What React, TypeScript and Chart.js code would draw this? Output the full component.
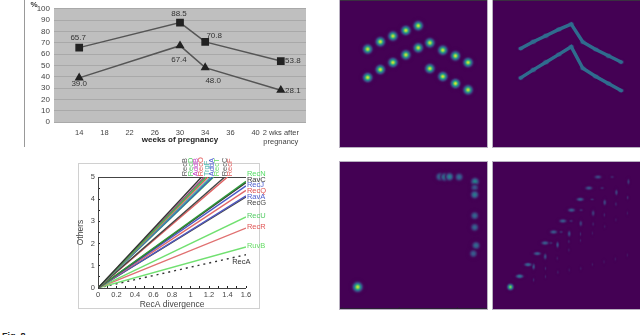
import React, { useEffect, useRef } from "react";
import { Chart, registerables } from "chart.js";

Chart.register(...registerables);

const FONT = "'Liberation Sans', Arial, sans-serif";

// Panel A: weeks of pregnancy
const weekLabels: any[] = ["", "14", "18", "22", "26", "30", "34", "36", "40", ["2 wks after", "pregnancy"], ""];
const upperSeries = [null, 65.7, null, null, null, 87.8, 70.8, null, null, 53.8, null];
const lowerSeries = [null, 39.0, null, null, null, 67.4, 48.0, null, null, 28.1, null];
const upperLabels = ["", "65.7", "", "", "", "88.5", "70.8", "", "", "53.8", ""];
const lowerLabels = ["", "39.0", "", "", "", "67.4", "48.0", "", "", "28.1", ""];
const upperOffsets = [[0, 0], [-1, -10], [0, 0], [0, 0], [0, 0], [-1, -9], [9, -6], [0, 0], [0, 0], [12, 0], [0, 0]];
const lowerOffsets = [[0, 0], [0, 6], [0, 0], [0, 0], [0, 0], [-1, 14], [8, 13], [0, 0], [0, 0], [12, 1], [0, 0]];

// Panel B: divergence lines
const lineNames = ["RecB", "RecD", "AddB", "RecO", "TrgF", "AddA", "RecT", "RecC", "RecF", "RecN", "RavC", "RecJ", "RecQ", "RavA", "RecG", "RecU", "RecR", "RuvB", "RecA"];
const lineEndX = [1.12, 1.17, 1.15, 1.19, 1.22, 1.24, 1.25, 1.37, 1.4, 1.6, 1.6, 1.6, 1.6, 1.6, 1.6, 1.6, 1.6, 1.6, 1.6];
const lineEndY = [5, 5, 5, 5, 5, 5, 5, 5, 5, 4.8, 4.75, 4.6, 4.4, 4.15, 4.1, 3.2, 2.7, 1.85, 1.5];
const lineColors = ["#333333", "#3fb64f", "#a0407f", "#e05a5a", "#3fa8a0", "#4050c0", "#4cc55c", "#444444", "#e06060", "#2f9a3a", "#333333", "#4858c8", "#e06868", "#5058c0", "#444444", "#70e070", "#e07070", "#70e070", "#333333"];
const textColors = ["#555555", "#55cc66", "#c040c0", "#e05555", "#50b8b0", "#5060d0", "#66dd66", "#555555", "#e05555", "#55dd66", "#333333", "#5060d0", "#e05050", "#5060d0", "#444444", "#55cc66", "#e05555", "#66dd66", "#333333"];
const labelX = [0.94, 1.0, 1.06, 1.115, 1.18, 1.23, 1.29, 1.37, 1.43, 1.61, 1.61, 1.61, 1.61, 1.61, 1.61, 1.61, 1.61, 1.61, 1.45];
const labelY = [5.03, 5.03, 5.03, 5.03, 5.03, 5.03, 5.03, 5.03, 5.03, 5.15, 4.86, 4.64, 4.38, 4.1, 3.84, 3.26, 2.75, 1.9, 1.17];

// Panels C/D: two chevrons
const chevronX = [18.8, 27.4, 36, 44.8, 53.2, 61.1, 69.9, 78.5, 87.1];
const dotsUpperY = [66.6, 71.6, 75.5, 79.3, 82.5, 70.9, 65.9, 62, 57.5];
const dotsLowerY = [47.3, 52.7, 57.5, 62.7, 67.5, 53.4, 48, 43.2, 38.9];
const traceUpperY = [67, 71.6, 75.7, 80, 83.6, 71.4, 66.4, 62, 57.8];
const traceLowerY = [47, 52.5, 57.7, 63, 68.2, 53.6, 48, 43.2, 38.4];
const traceUpperGlow = [0.5, 0.8, 0.78, 0.72, 0.55, 0.5, 0.55, 0.78, 0.5];
const traceLowerGlow = [0.5, 0.78, 0.78, 0.62, 0.55, 0.55, 0.68, 0.72, 0.5];

// Panel E: clusters [x, y, intensity]
const clusterE = [
  [12, 15, 0.95], [68, 90, 0.42], [71.2, 89.8, 0.45], [74.5, 90, 0.45], [81, 89.8, 0.36],
  [91.8, 86.6, 0.5], [91.6, 82.5, 0.28], [91.6, 77.8, 0.42], [91.6, 63.5, 0.34], [91.6, 55.6, 0.34], [92.5, 43.2, 0.36], [90.7, 37.7, 0.3],
];
const clusterTicks = [1, 40, 79.5];

// Panel F: grid of faint peaks [x, y, intensity]
const peakMain = [[11.8, 15, 0.85]];
const peakDiagonal = [
  [18.1, 22.3, 0.42], [23.8, 30.2, 0.34], [30.1, 37.7, 0.3], [35.4, 44.9, 0.32], [41.2, 52.4, 0.3],
  [47.5, 59.9, 0.3], [53.4, 67.3, 0.3], [59.3, 74.6, 0.3], [65.2, 82.3, 0.28], [71.4, 89.8, 0.24],
];
const peakSecond = [
  [27.6, 28.9, 0.26], [35.5, 35.7, 0.24], [43.9, 43.7, 0.24], [51.8, 51.2, 0.24], [59.7, 58.2, 0.2],
  [68.1, 65.2, 0.2], [76, 72.5, 0.22], [83.9, 79.3, 0.2], [92.1, 86.6, 0.16],
];
const peakThird = [
  [39.3, 44.9, 0.16], [46.3, 52.4, 0.16], [53.1, 59.9, 0.15], [59.9, 67.3, 0.15], [67.4, 74.6, 0.15], [74.2, 82.3, 0.15], [81, 89.8, 0.14],
];
const peakFaint = [
  [27.6, 19.8, 0.12], [35.7, 22, 0.1], [44.1, 25, 0.1], [51.8, 26.5, 0.09], [59.7, 27.6, 0.09], [67.6, 30.3, 0.09], [75.5, 32.1, 0.09], [83.2, 34, 0.09], [91.4, 36.7, 0.09],
  [35.7, 27.6, 0.11], [43.7, 34.5, 0.1], [51.6, 40.1, 0.1], [59.5, 46.6, 0.09], [67.6, 51.6, 0.09], [76, 56.1, 0.09], [83.6, 60.7, 0.09], [91.4, 65.2, 0.09],
  [51.6, 46, 0.12], [59.5, 51, 0.12], [68.1, 57.8, 0.12], [75.7, 64, 0.12], [83.6, 71.4, 0.13], [91.6, 75.8, 0.14],
];

const stops = [[68, 1, 84], [59, 82, 139], [33, 145, 140], [94, 201, 98], [253, 231, 37]];
function viridis(t: number) {
  const p = Math.min(0.999, Math.max(0, t)) * (stops.length - 1);
  const i = Math.floor(p);
  const f = p - i;
  return stops[i].map((c, k) => c + (stops[i + 1][k] - c) * f);
}

const blobCache: Record<string, HTMLCanvasElement> = {};
function blob(rx: number, ry: number, v: number) {
  const key = `${rx}_${ry}_${v}`;
  if (blobCache[key]) return blobCache[key];
  const w = Math.ceil(rx * 3) * 2 + 1;
  const h = Math.ceil(ry * 3) * 2 + 1;
  const c = document.createElement("canvas");
  c.width = w;
  c.height = h;
  const g = c.getContext("2d")!;
  const img = g.createImageData(w, h);
  for (let y = 0; y < h; y++) {
    for (let x = 0; x < w; x++) {
      const dx = (x - (w - 1) / 2) / rx;
      const dy = (y - (h - 1) / 2) / ry;
      const t = v * Math.exp(-(dx * dx + dy * dy));
      const col = viridis(t);
      const o = (y * w + x) * 4;
      img.data[o] = col[0];
      img.data[o + 1] = col[1];
      img.data[o + 2] = col[2];
      img.data[o + 3] = Math.min(255, (t / 0.1) * 255);
    }
  }
  g.putImageData(img, 0, 0);
  blobCache[key] = c;
  return c;
}

const peakSet = (rows: number[][], rx: number, ry: number) => ({
  data: rows.map(([x, y, v]) => ({ x, y, v })),
  pointRadius: 4,
  pointStyle: (ctx: any) => blob(rx, ry, ctx.raw ? ctx.raw.v : 0.1),
});

const heatOptions = {
  responsive: false,
  animation: false,
  layout: { padding: 0, autoPadding: false },
  plugins: { legend: { display: false }, tooltip: { enabled: false } },
  scales: {
    x: { type: "linear", min: 0, max: 100, display: false },
    y: { type: "linear", min: 0, max: 100, display: false },
  },
};

const pointLabels = {
  id: "pointLabels",
  afterDatasetsDraw(chart: any) {
    const { ctx, scales } = chart;
    ctx.save();
    ctx.font = `8px ${FONT}`;
    ctx.fillStyle = "#333";
    ctx.textAlign = "center";
    ctx.textBaseline = "middle";
    const draw = (vals: any[], labels: string[], offs: number[][]) =>
      vals.forEach((v, i) => {
        if (v === null) return;
        ctx.fillText(labels[i], scales.x.getPixelForValue(i) + offs[i][0], scales.y.getPixelForValue(v) + offs[i][1]);
      });
    draw(upperSeries, upperLabels, upperOffsets);
    draw(lowerSeries, lowerLabels, lowerOffsets);
    ctx.font = `bold 8px ${FONT}`;
    ctx.fillText("%", 34, 5);
    ctx.restore();
  },
};

const lineLabels = {
  id: "lineLabels",
  afterDatasetsDraw(chart: any) {
    const { ctx, scales } = chart;
    ctx.save();
    ctx.font = `7.5px ${FONT}`;
    lineNames.forEach((name, i) => {
      const px = scales.x.getPixelForValue(labelX[i]);
      const py = scales.y.getPixelForValue(labelY[i]);
      ctx.fillStyle = textColors[i];
      ctx.save();
      ctx.translate(px, py);
      if (i < 9) ctx.rotate(-Math.PI / 2);
      ctx.textAlign = "left";
      ctx.textBaseline = "middle";
      ctx.fillText(name, 0, 0);
      ctx.restore();
    });
    ctx.restore();
  },
};

function makeWeeks(canvas: HTMLCanvasElement) {
  return new Chart(canvas, {
    type: "line",
    data: {
      labels: weekLabels,
      datasets: [
        { data: upperSeries, borderColor: "#555", borderWidth: 1.5, spanGaps: true, pointStyle: "rect", pointRadius: 4.4, pointBackgroundColor: "#222", pointBorderColor: "#222" },
        { data: lowerSeries, borderColor: "#555", borderWidth: 1.5, spanGaps: true, pointStyle: "triangle", pointRadius: 3.8, pointBackgroundColor: "#222", pointBorderColor: "#222" },
      ],
    } as any,
    options: {
      responsive: false,
      animation: false,
      layout: { padding: { left: 0, right: 14, top: 8, bottom: 0 }, autoPadding: false },
      plugins: { legend: { display: false }, tooltip: { enabled: false } },
      scales: {
        x: {
          offset: false,
          afterFit: (s: any) => { s.height = 28; },
          grid: { display: false, drawTicks: false },
          border: { display: false },
          ticks: { autoSkip: false, maxRotation: 0, padding: 6, color: "#444", font: { family: FONT, size: 7.5 } },
          title: { display: true, text: "weeks of pregnancy", color: "#222", padding: { top: 0, bottom: 5 }, font: { family: FONT, size: 8, weight: "bold" } },
        },
        y: {
          min: 0,
          max: 100,
          afterFit: (s: any) => { s.width = 54; },
          grid: { color: "#a9a9a9", drawTicks: false },
          border: { display: false },
          ticks: { stepSize: 10, autoSkip: false, padding: 4, color: "#444", font: { family: FONT, size: 8 } },
        },
      },
    } as any,
    plugins: [
      {
        id: "plotBg",
        beforeDraw(chart: any) {
          const { ctx, chartArea: a } = chart;
          ctx.fillStyle = "#bfbfbf";
          ctx.fillRect(a.left, a.top, a.right - a.left, a.bottom - a.top);
        },
      },
      pointLabels,
    ],
  });
}

function makeLines(canvas: HTMLCanvasElement) {
  return new Chart(canvas, {
    type: "scatter",
    data: {
      datasets: lineNames.map((name, i) => ({
        label: name,
        data: [{ x: 0, y: 0 }, { x: lineEndX[i], y: lineEndY[i] }],
        showLine: true,
        pointRadius: 0,
        borderColor: lineColors[i],
        borderWidth: 1.4,
        borderDash: name === "RecA" ? [2, 4] : undefined,
      })),
    } as any,
    options: {
      responsive: false,
      animation: false,
      layout: { padding: { left: 0, right: 24, top: 22, bottom: 0 }, autoPadding: false },
      plugins: { legend: { display: false }, tooltip: { enabled: false } },
      scales: {
        x: {
          type: "linear",
          min: 0,
          max: 1.6,
          afterFit: (s: any) => { s.height = 22; },
          afterBuildTicks: (s: any) => { s.ticks = Array.from({ length: 17 }, (_, i) => ({ value: i / 10 })); },
          grid: { drawOnChartArea: false, color: "#222", tickLength: -2 },
          border: { display: false },
          ticks: {
            autoSkip: false,
            maxRotation: 0,
            padding: 4,
            color: "#444",
            font: { family: FONT, size: 7.5 },
            callback: (v: any, i: number) => (i % 2 === 0 ? String(v) : ""),
          },
          title: { display: true, text: "RecA divergence", color: "#444", padding: 0, font: { family: FONT, size: 8.5 } },
        },
        y: {
          min: 0,
          max: 5,
          afterFit: (s: any) => { s.width = 22; },
          afterBuildTicks: (s: any) => { s.ticks = Array.from({ length: 11 }, (_, i) => ({ value: i / 2 })); },
          grid: { drawOnChartArea: false, color: "#222", tickLength: -2 },
          border: { display: false },
          ticks: {
            autoSkip: false,
            padding: 5,
            color: "#444",
            font: { family: FONT, size: 7.5 },
            callback: (v: any) => (Number.isInteger(v) ? String(v) : ""),
          },
          title: { display: true, text: "Others", color: "#444", padding: 0, font: { family: FONT, size: 8.5 } },
        },
      },
    } as any,
    plugins: [
      {
        id: "frame",
        beforeDatasetsDraw(chart: any) {
          const { ctx, chartArea: a } = chart;
          ctx.save();
          ctx.lineWidth = 1;
          ctx.beginPath();
          ctx.moveTo(a.left + 0.5, a.top + 0.5);
          ctx.lineTo(a.left + 0.5, a.bottom + 0.5);
          ctx.lineTo(a.right, a.bottom + 0.5);
          ctx.moveTo(a.left, a.top + 0.5);
          ctx.lineTo(a.right, a.top + 0.5);
          ctx.strokeStyle = "#444";
          ctx.stroke();
          ctx.restore();
        },
      },
      lineLabels,
    ],
  });
}

function makeDots(canvas: HTMLCanvasElement) {
  const rows = [
    ...chevronX.map((x, i) => [x, dotsUpperY[i], 0.95]),
    ...chevronX.map((x, i) => [x, dotsLowerY[i], 0.95]),
  ];
  return new Chart(canvas, {
    type: "scatter",
    data: { datasets: [peakSet(rows, 3.4, 3.4)] } as any,
    options: heatOptions as any,
  });
}

function makeTraces(canvas: HTMLCanvasElement) {
  const trace = (ys: number[], color: string, width: number) => ({
    data: chevronX.map((x, i) => ({ x, y: ys[i] })),
    showLine: true,
    pointRadius: 0,
    borderColor: color,
    borderWidth: width,
    borderCapStyle: "round",
  });
  const nodes = (ys: number[], glow: number[]) => ({
    data: chevronX.map((x, i) => ({ x, y: ys[i], v: glow[i] })),
    pointRadius: 3,
    pointStyle: (ctx: any) => blob(2, 1.5, ctx.raw ? ctx.raw.v : 0.6),
  });
  return new Chart(canvas, {
    type: "scatter",
    data: {
      datasets: [
        trace(traceUpperY, "#2f6c8e", 3.4),
        trace(traceLowerY, "#2f6c8e", 3.4),
        trace(traceUpperY, "#2fa48c", 2),
        trace(traceLowerY, "#2fa48c", 2),
        nodes(traceUpperY, traceUpperGlow),
        nodes(traceLowerY, traceLowerGlow),
      ],
    } as any,
    options: heatOptions as any,
  });
}

function makeClusters(canvas: HTMLCanvasElement) {
  return new Chart(canvas, {
    type: "scatter",
    data: {
      datasets: [
        peakSet(clusterE.slice(0, 1), 3.6, 3.6),
        peakSet(clusterE.slice(1), 3.2, 3.2),
      ],
    } as any,
    options: heatOptions as any,
    plugins: [
      {
        id: "bottomTicks",
        afterDraw(chart: any) {
          const { ctx, scales, chartArea: a } = chart;
          ctx.save();
          ctx.fillStyle = "#2b2036";
          ctx.fillRect(a.left, a.bottom - 1, a.right - a.left, 1);
          clusterTicks.forEach((t) => ctx.fillRect(scales.x.getPixelForValue(t), a.bottom - 2, 1, 2));
          ctx.restore();
        },
      },
    ],
  });
}

function makePeaks(canvas: HTMLCanvasElement) {
  return new Chart(canvas, {
    type: "scatter",
    data: {
      datasets: [
        peakSet(peakMain, 2.4, 2.4),
        peakSet(peakDiagonal, 3.2, 1.7),
        peakSet(peakSecond, 1.4, 2.8),
        peakSet(peakThird, 1.8, 1.2),
        peakSet(peakFaint, 1.1, 2),
      ],
    } as any,
    options: heatOptions as any,
  });
}

function Panel({ make, style }: { make: (c: HTMLCanvasElement) => Chart; style: any }) {
  const ref = useRef<HTMLCanvasElement>(null);
  useEffect(() => {
    const chart = make(ref.current!);
    return () => chart.destroy();
  }, [make]);
  return (
    <canvas
      ref={ref}
      width={style.width}
      height={style.height}
      style={{ position: "absolute", display: "block", ...style }}
    />
  );
}

const heat = { backgroundColor: "#440154", boxShadow: "0 0 0 1px #b8b0c0", filter: "blur(0.4px)" };

export default function App() {
  return (
    <div style={{ position: "fixed", left: 0, top: 0, width: 640, height: 335, overflow: "hidden", background: "#fff" }}>
      <div style={{ position: "absolute", left: 24, top: 0, width: 1, height: 147, background: "#999" }} />
      <div style={{ position: "absolute", left: 78, top: 163, width: 182, height: 146, boxSizing: "border-box", border: "1px solid #d0d0d0" }} />
      <Panel make={makeWeeks} style={{ left: 0, top: 0, width: 320, height: 150, filter: "blur(0.6px)" }} />
      <Panel make={makeLines} style={{ left: 76, top: 155, width: 194, height: 155, filter: "blur(0.5px)" }} />
      <Panel make={makeDots} style={{ left: 340, top: 0, width: 147, height: 147, ...heat }} />
      <Panel make={makeTraces} style={{ left: 493, top: 0, width: 147, height: 147, ...heat }} />
      <Panel make={makeClusters} style={{ left: 340, top: 162, width: 147, height: 147, ...heat }} />
      <Panel make={makePeaks} style={{ left: 493, top: 162, width: 147, height: 147, ...heat }} />
      <div style={{ position: "absolute", left: 340, top: 0, width: 147, height: 1, background: "#3a3040" }} />
      <div style={{ position: "absolute", left: 493, top: 0, width: 147, height: 1, background: "#3a3040" }} />
      <div style={{ position: "absolute", left: 2, top: 331, font: `bold 9px ${FONT}`, color: "#222" }}>Fig. 8</div>
    </div>
  );
}
